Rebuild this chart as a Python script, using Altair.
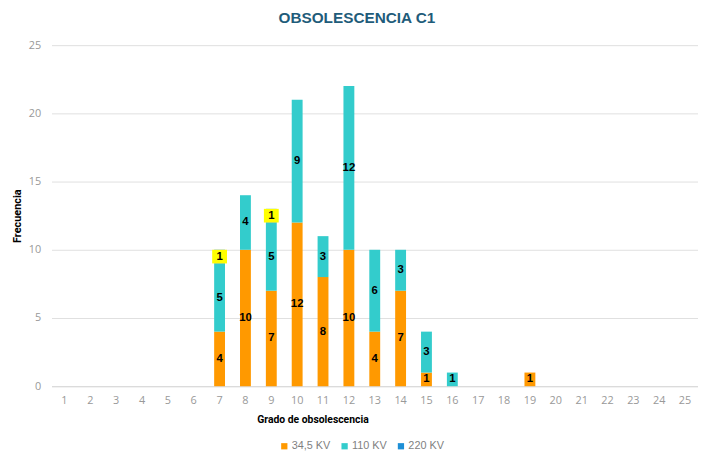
import altair as alt
import pandas as pd

grados = list(range(1, 26))
series = ["34,5 KV", "110 KV", "220 KV"]
kv345 = [0, 0, 0, 0, 0, 0, 4, 10, 7, 12, 8, 10, 4, 7, 1, 0, 0, 0, 1, 0, 0, 0, 0, 0, 0]
kv110 = [0, 0, 0, 0, 0, 0, 5, 4, 5, 9, 3, 12, 6, 3, 3, 1, 0, 0, 0, 0, 0, 0, 0, 0, 0]
kv220 = [0, 0, 0, 0, 0, 0, 1, 0, 1, 0, 0, 0, 0, 0, 0, 0, 0, 0, 0, 0, 0, 0, 0, 0, 0]
colores = ["#FF9900", "#33CCCC", "#1E8FD6"]

rows = []
for i, (s, vals) in enumerate(zip(series, [kv345, kv110, kv220])):
    for g, v in zip(grados, vals):
        rows.append({"grado": g, "serie": s, "valor": v, "orden": i})
df = pd.DataFrame(rows)

xenc = alt.X(
    "grado:O",
    scale=alt.Scale(domain=grados, paddingInner=0.1, paddingOuter=0.05),
    axis=alt.Axis(
        title="Grado de obsolescencia", labelAngle=0, ticks=False, labelPadding=8,
        labelColor="#999999", labelFontSize=11, labelFont="Open Sans",
        domainColor="#d9d9d9", titleFontSize=10.5, titleFont="Roboto",
        titleFontWeight="bold", titleColor="#000000",
        titleX=264, titleY=34, titleAlign="center", titleBaseline="middle",
    ),
)

base = (
    alt.Chart(df)
    .transform_filter("datum.valor > 0")
    .transform_stack(stack="valor", groupby=["grado"], sort=[alt.SortField("orden")], as_=["y0", "y1"])
    .transform_calculate(mid="(datum.y0 + datum.y1) / 2")
)

bars = base.mark_bar(size=11).encode(
    x=xenc,
    y=alt.Y(
        "y0:Q",
        scale=alt.Scale(domain=[0, 25], nice=False),
        axis=alt.Axis(
            title="Frecuencia", values=[0, 5, 10, 15, 20, 25], ticks=False, domain=False,
            gridColor="#e0e0e0", labelColor="#999999", labelFontSize=11, labelFont="Open Sans",
            labelPadding=11, titleFontSize=11, titleFont="Roboto", titleFontWeight="bold",
            titleColor="#000000", titlePadding=6,
        ),
    ),
    y2="y1:Q",
    color=alt.Color(
        "serie:N",
        scale=alt.Scale(domain=series, range=colores),
        legend=alt.Legend(
            title=None, orient="none", direction="horizontal", legendX=230, legendY=400,
            symbolType="square", symbolSize=40, symbolStrokeWidth=0, labelColor="#7f7f7f",
            labelFontSize=11, labelFont="Liberation Sans", columnPadding=8, labelOffset=2,
        ),
    ),
)

yellow = base.transform_filter("datum.serie == '220 KV'").mark_bar(size=15, color="#FFFF00").encode(
    x="grado:O", y="y0:Q", y2="y1:Q"
)

labels = base.mark_text(fontSize=11.5, fontWeight="bold", color="#000000", font="Liberation Sans").encode(
    x="grado:O", y="mid:Q", text="valor:Q"
)

chart = (
    alt.layer(bars, yellow, labels)
    .properties(
        width=654,
        height=345,
        padding={"left": 44, "top": 35, "right": 0, "bottom": 67},
        autosize=alt.AutoSizeParams(type="none"),
        title=alt.TitleParams(
            "OBSOLESCENCIA C1", fontSize=15.5, font="Liberation Sans", fontWeight="bold",
            color="#1F5C7A", anchor="middle", dx=-18, offset=13,
        ),
    )
    .configure_view(stroke=None)
)

chart.save("out.html", embed_options={"renderer": "svg", "actions": False})
